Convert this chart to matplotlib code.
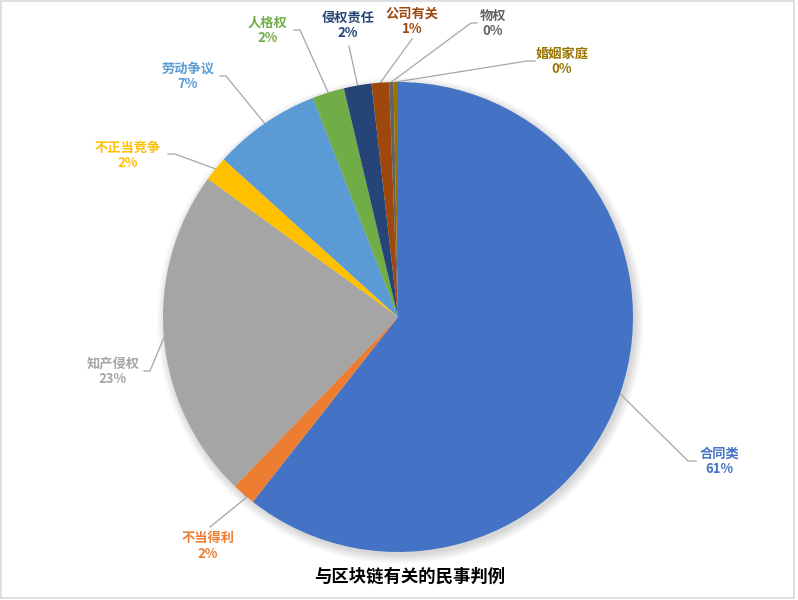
import matplotlib
matplotlib.use("Agg")
import matplotlib.pyplot as plt
import numpy as np
from matplotlib.patches import Circle, Rectangle

plt.rcParams["font.family"] = ["Noto Sans CJK SC", "DejaVu Sans"]

# Datos
categorias = ["合同类", "不当得利", "知产侵权", "不正当竞争", "劳动争议",
              "人格权", "侵权责任", "公司有关", "物权", "婚姻家庭"]
valores = [60.6, 1.6, 22.8, 1.7, 7.4, 2.2, 1.9, 1.2, 0.3, 0.3]
colores = ["#4472C4", "#ED7D31", "#A5A5A5", "#FFC000", "#5B9BD5",
           "#70AD47", "#264478", "#9E480E", "#636363", "#997300"]
titulo = "与区块链有关的民事判例"

# posicion de etiquetas en pixeles: (texto x, texto y, codo x, codo y, fin x, fin y)
etiquetas_px = [
    (719, 461, 688, 461, 696, 461),
    (208, 546, 247, 497, 210, 527),
    (113, 371, 150, 371, 144, 371),
    (128, 155, 175, 154, 168, 154),
    (188, 76, 226, 76, 220, 76),
    (268, 30, 300, 30, 294, 30),
    (348, 25, 349, 46, 349, 46),
    (412, 21, 412, 39, 412, 39),
    (493, 23, 471, 23, 477, 23),
    (562, 61, 527, 61, 535, 61),
]

W, H = 798, 600
cx, cy, R = 398, 317, 235


def a_datos(px, py):
    return (px - cx) / R, (cy - py) / R


fig = plt.figure(figsize=(W / 100, H / 100), dpi=100)
ax = fig.add_axes([0, 0, 1, 1])

# sombra suave
for i, r in enumerate(np.linspace(1.035, 1.0, 8)):
    ax.add_patch(Circle((0.01, -0.014), r, color="black", alpha=0.018, lw=0, zorder=0))

wedges, _ = ax.pie(valores, colors=colores, startangle=90, counterclock=False,
                   radius=1.0, wedgeprops=dict(linewidth=0))
for w in wedges:
    w.set_zorder(2)

total = sum(valores)
for w, cat, val, col, (tx, ty, ex, ey, fx, fy) in zip(wedges, categorias, valores,
                                                      colores, etiquetas_px):
    ang = np.deg2rad((w.theta1 + w.theta2) / 2)
    x0, y0 = np.cos(ang), np.sin(ang)
    x1, y1 = a_datos(ex, ey)
    x2, y2 = a_datos(fx, fy)
    ax.plot([x0, x1, x2], [y0, y1, y2], color="#A6A6A6", lw=0.9, zorder=1)
    xt, yt = a_datos(tx, ty)
    ax.text(xt, yt, f"{cat}\n{val / total * 100:.0f}%", color=col, fontsize=9.5,
            fontweight="bold", ha="center", va="center", linespacing=1.1, zorder=3)

ax.text(*a_datos(410, 577), titulo, fontsize=12.5, fontweight="bold",
        ha="center", va="center", color="black")

ax.set_xlim(-cx / R, (W - cx) / R)
ax.set_ylim(-(H - cy) / R, cy / R)
ax.set_aspect("auto")
ax.axis("off")

fig.patches.append(Rectangle((0.5 / W, 2 / H), 1 - 5 / W, 1 - 3 / H,
                             transform=fig.transFigure, fill=False,
                             edgecolor="#D9D9D9", lw=1.2))

plt.savefig("out.png", dpi=100)
